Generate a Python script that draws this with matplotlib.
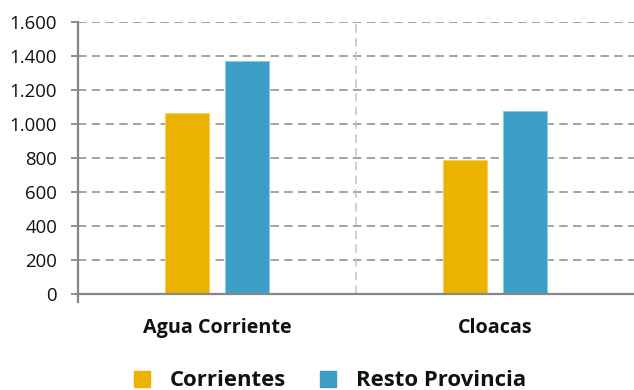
import matplotlib
matplotlib.use("Agg")
import matplotlib.pyplot as plt
import numpy as np
from matplotlib.patches import Rectangle

categories = ["Agua Corriente", "Cloacas"]
series_names = ["Corrientes", "Resto Provincia"]
corrientes = [1065, 785]
resto_provincia = [1370, 1075]
y_ticks = [0, 200, 400, 600, 800, 1000, 1200, 1400, 1600]
y_tick_labels = ["0", "200", "400", "600", "800", "1.000", "1.200", "1.400", "1.600"]

colors = ["#EBB200", "#3C9EC5"]
edge_colors = ["#F5D264", "#8CCBE3"]
axis_gray = "#868686"

plt.rcParams["font.family"] = ["Open Sans", "DejaVu Sans"]

W, H = 634, 390
fig = plt.figure(figsize=(W / 100, H / 100), dpi=100)
left, right, bottom, top = 78, 634, 294, 21.7
ax = fig.add_axes([left / W, (H - bottom) / H, (right - left) / W, (bottom - top) / H])

x = np.arange(len(categories))
width = 0.158
offset = 0.1075
for vals, off, c, ec, name in zip([corrientes, resto_provincia], [-offset, offset],
                                  colors, edge_colors, series_names):
    ax.bar(x + off, vals, width=width, color=c, edgecolor=ec, linewidth=0.8,
           zorder=3, label=name)

ax.set_xlim(-0.5, 1.5)
ax.set_ylim(0, 1600)

# horizontal dashed gridlines
for yv in y_ticks[1:]:
    ax.axhline(yv, color="#8a8a8a", linewidth=1.1, dashes=(5.5, 3.5), zorder=1)
# dashed divider between categories
ax.axvline(0.5, color="#c4c4c4", linewidth=1.1, dashes=(5.5, 3.5), zorder=1)

for s in ["top", "right"]:
    ax.spines[s].set_visible(False)
ax.spines["left"].set_color(axis_gray)
ax.spines["left"].set_linewidth(1.6)
ax.spines["left"].set_bounds(-45, 1600)
ax.spines["bottom"].set_color(axis_gray)
ax.spines["bottom"].set_linewidth(1.6)
ax.spines["bottom"].set_zorder(4)

ax.set_yticks(y_ticks)
ax.set_yticklabels(y_tick_labels, fontsize=13.4, color="#111111")
ax.tick_params(axis="y", length=5, width=1.3, color=axis_gray, pad=10)
ax.set_xticks(x)
ax.set_xticklabels(categories, fontsize=14.2, fontweight="bold", color="#111111")
ax.tick_params(axis="x", length=0, pad=17)

handles = [Rectangle((0, 0), 1, 1, color=c) for c in colors]
leg = fig.legend(handles, series_names, loc="center", bbox_to_anchor=(0.5205, 1 - 381 / H),
                 ncol=2, frameon=False, handlelength=0.73, handleheight=0.73,
                 handletextpad=0.9, columnspacing=1.5, borderpad=0, borderaxespad=0,
                 prop={"size": 15.9, "weight": "bold"})
for t in leg.get_texts():
    t.set_color("#111111")

fig.savefig("out.png", dpi=100)
